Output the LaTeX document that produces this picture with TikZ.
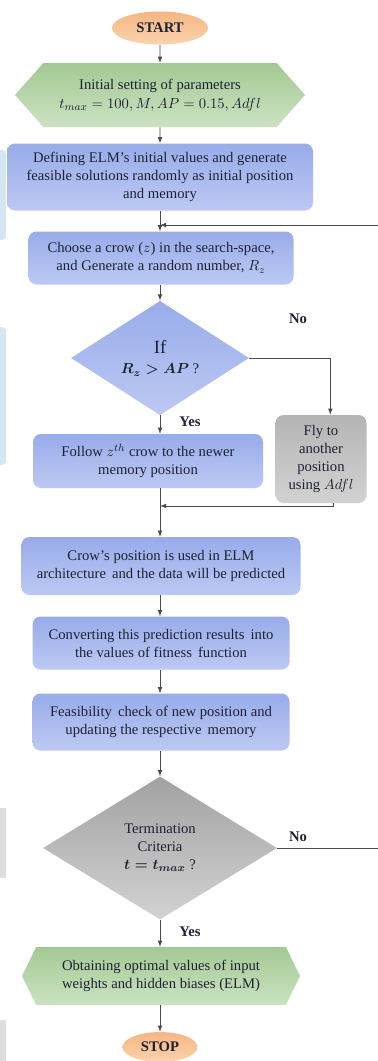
\documentclass[tikz,border=0pt]{standalone}
\usepackage{fontspec}
\setmainfont{Liberation Serif}
\usetikzlibrary{shapes.geometric,shapes.symbols}
\definecolor{ink}{HTML}{1E2233}
\definecolor{wire}{HTML}{4A4A4A}
\definecolor{orangeA}{HTML}{F6B682}
\definecolor{orangeB}{HTML}{FAD3AE}
\definecolor{greenA}{HTML}{A3C993}
\definecolor{greenB}{HTML}{CCE2C2}
\definecolor{blueA}{HTML}{98ACEA}
\definecolor{blueB}{HTML}{BDC9F3}
\definecolor{greyA}{HTML}{A2A2A2}
\definecolor{greyB}{HTML}{D2D2D2}
\definecolor{panelblue}{HTML}{D4E6F1}
\definecolor{panelgrey}{HTML}{DEDEDE}

\begin{document}
\begin{tikzpicture}[x=0.75pt,y=-0.75pt]
    \tikzset{txt/.style={text=ink, align=center, inner sep=0pt, font=\fontsize{11}{13.5}\selectfont},
        terminal/.style={txt, ellipse, top color=orangeA, bottom color=orangeB, font=\fontsize{11}{13.5}\selectfont\bfseries},
        hexa/.style={txt, signal, signal to=west and east, top color=greenA, bottom color=greenB},
        box/.style={txt, rectangle, rounded corners=6pt, top color=blueA, bottom color=blueB},
        greybox/.style={txt, rectangle, rounded corners=6pt, top color=greyA!80, bottom color=greyB},
        choice/.style={txt, diamond, top color=#1A, bottom color=#1B},
        tag/.style={text=ink, inner sep=1pt, font=\fontsize{11}{13}\selectfont\bfseries}}
    \useasboundingbox (0,0) rectangle (378,1061);
    %Hintergrund
    \fill[panelblue, rounded corners=3pt] (-10,150) rectangle (6,240);
    \fill[panelblue, rounded corners=3pt] (-10,327) rectangle (6,465);
    \fill[panelgrey] (0,808) rectangle (6,878);
    \fill[panelgrey] (0,1020) rectangle (6,1070);

    %Knoten
    \node[terminal, minimum width=72pt, minimum height=24.75pt] (start) at (160,28) {START};
    \node[hexa, minimum width=217.5pt, minimum height=48pt, signal pointer angle=97] (init) at (160,95)
        {Initial setting of parameters\\[1pt] $t_{max} = 100, M, AP = 0.15, Adfl$};
    \node[box, minimum width=229.5pt, minimum height=50.25pt] (define) at (160,177)
        {Defining ELM’s initial values and generate\\ feasible solutions randomly as initial position\\ and memory};
    \node[box, minimum width=198.75pt, minimum height=39.75pt] (choose) at (161,258)
        {Choose a crow ($z$) in the search-space,\\ and Generate a random number, $R_z$};
    \node[choice=blue, minimum width=133.5pt, minimum height=75pt] (ifd) at (160,358)
        {{\fontsize{14}{15}\selectfont If}\\[2pt] {\boldmath$R_z > AP$} ?};
    \node[box, minimum width=172.5pt, minimum height=40.5pt] (follow) at (148,461)
        {Follow $z^{th}$ crow to the newer\\ memory position};
    \node[greybox, minimum width=68.25pt, minimum height=66pt] (fly) at (321,459)
        {Fly to\\ another\\ position\\ using $Adfl$};
    \node[box, minimum width=209.25pt, minimum height=43.5pt] (crow) at (161,566)
        {Crow’s position is used in ELM\\ architecture\, and the data will be predicted};
    \node[box, minimum width=192.75pt, minimum height=39.75pt] (conv) at (161,643)
        {Converting this prediction results\, into\\ the values of fitness\, function};
    \node[box, minimum width=192.75pt, minimum height=42.75pt] (feas) at (161,722)
        {Feasibility\, check of new position and\\ updating the respective\, memory};
    \node[choice=grey, minimum width=175.5pt, minimum height=107.25pt] (term) at (160,848)
        {Termination\\ Criteria\\ {\boldmath$t = t_{max}$} ?};
    \node[hexa, minimum width=208.5pt, minimum height=43.5pt, signal pointer angle=128] (final) at (161,976)
        {Obtaining optimal values of input\\ weights and hidden biases (ELM)};
    \node[terminal, minimum width=56.25pt, minimum height=22.5pt] (stop) at (160,1047) {STOP};

    \coordinate (back) at (160,225);
    \coordinate (join) at (160,506);

    %Verbindungen
    \begin{scope}[draw=wire, line width=0.6pt]
    \draw[-latex] (start) -- (init);
    \draw[-latex] (init) -- (define);
    \draw[-latex] (define) -- (define |- choose.north);
    \draw[-latex] (choose.south -| ifd) -- (ifd);
    \draw[-latex] (ifd) -- (ifd |- follow.north);
    \draw[-latex] (ifd.east) -| ([xshift=7pt]fly.north);
    \draw (join |- follow.south) -- (join);
    \draw[-latex] ([xshift=9pt]fly.south) |- (join);
    \draw[-latex] (join) -- (join |- crow.north);
    \draw[-latex] (crow.south -| join) -- (join |- conv.north);
    \draw[-latex] (conv.south -| join) -- (join |- feas.north);
    \draw[-latex] (feas.south -| join) -- (term);
    \draw[-latex] (term.east) -- ++(115,0) |- (back);
    \draw[-latex] (term) -- (term |- final.north);
    \draw[-latex] (final.south -| term) -- (stop);
    \end{scope}

    %Beschriftung
    \node[tag] (no1)  at (298,319) {No};
    \node[tag] (yes1) at (190,422) {Yes};
    \node[tag] (no2)  at (298,837) {No};
    \node[tag] (yes2) at (190,932) {Yes};
\end{tikzpicture}
\end{document}
